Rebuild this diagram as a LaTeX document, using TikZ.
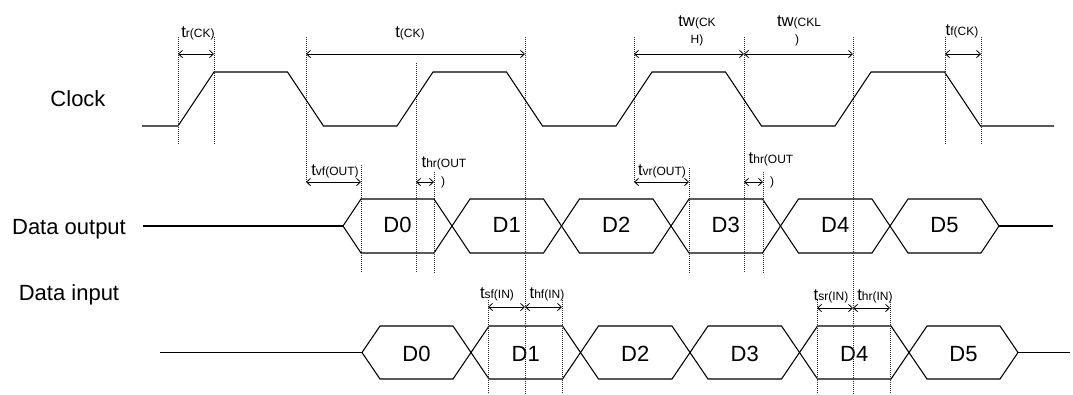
\documentclass[tikz,border=0pt]{standalone}
\usepackage{fontspec}
\setmainfont{Liberation Sans}
\usetikzlibrary{arrows.meta}
\newcommand{\tlab}[2]{{\fontsize{12.5}{14}\selectfont #1}{\fontsize{9}{11}\selectfont #2}}
\begin{document}
\begin{tikzpicture}[x=0.75pt,y=-0.75pt,
  sig/.style={line width=0.8pt, line join=miter},
  guide/.style={line width=0.6pt, dash pattern=on 0.75pt off 0.75pt, black!85},
  dim/.style={line width=0.6pt, {Straight Barb[length=3pt,width=5.5pt]}-{Straight Barb[length=3pt,width=5.5pt]}},
  big/.style={font=\fontsize{16.5}{19}\selectfont, inner sep=0pt, anchor=base},
  small/.style={inner sep=0pt, anchor=base},
]
\fill[white] (0,0) rectangle (1073,394);
\useasboundingbox (0,0) rectangle (1073,394);

% ---------- signal labels
\node[big] (lclk) at (78,106) {Clock};
\node[big] (lout) at (69,234) {Data output};
\node[big] (lin)  at (69,300) {Data input};

% ---------- clock
\draw[sig] (142,126) -- (178,126) -- (214,72) -- (287.5,72) -- (323.5,126)
  -- (397,126) -- (433,72) -- (506.5,72) -- (542.5,126)
  -- (616,126) -- (652,72) -- (725.5,72) -- (761.5,126)
  -- (835,126) -- (871,72) -- (944.5,72) -- (980.5,126) -- (1054,126);

% ---------- data output
\draw[sig] (143,226) -- (343,226);
\draw[sig] (999,226) -- (1053,226);
\foreach \L/\R/\t in {343/452/D0, 452/561.5/D1, 561.5/671/D2, 671/780.5/D3, 780.5/890/D4, 890/999/D5}{
  \draw[sig] (\L,226) -- (\L+18,199) -- (\R-18,199) -- (\R,226) -- (\R-18,253) -- (\L+18,253) -- cycle;
  \node[big] (out\t) at ({(\L+\R)/2},232) {\t};
}

% ---------- data input
\draw[sig] (160,352.5) -- (362,352.5);
\draw[sig] (1018,352.5) -- (1070,352.5);
\foreach \L/\R/\t in {362/471/D0, 471/580.5/D1, 580.5/690/D2, 690/799.5/D3, 799.5/909/D4, 909/1018/D5}{
  \draw[sig] (\L,352.5) -- (\L+18,326) -- (\R-18,326) -- (\R,352.5) -- (\R-18,379) -- (\L+18,379) -- cycle;
  \node[big] (in\t) at ({(\L+\R)/2},361) {\t};
}

% ---------- guide lines
\draw[guide] (178,37) -- (178,144);
\draw[guide] (214,37) -- (214,144);
\draw[guide] (306,37) -- (306,183);
\draw[guide] (416,63) -- (416,273);
\draw[guide] (525,37) -- (525,394);
\draw[guide] (634,37) -- (634,183);
\draw[guide] (744,37) -- (744,273);
\draw[guide] (853,37) -- (853,394);
\draw[guide] (945,37) -- (945,144);
\draw[guide] (981,37) -- (981,144);
\draw[guide] (361,165) -- (361,273);
\draw[guide] (434,172) -- (434,273);
\draw[guide] (689,168) -- (689,273);
\draw[guide] (763,172) -- (763,273);
\draw[guide] (488,300) -- (488,394);
\draw[guide] (562,300) -- (562,394);
\draw[guide] (817,300) -- (817,394);
\draw[guide] (890,300) -- (890,394);

% ---------- dimension arrows
\coordinate (a1) at (178,54); \coordinate (a2) at (214,54);
\coordinate (b1) at (306,54); \coordinate (b2) at (525,54);
\coordinate (c1) at (634,54); \coordinate (c2) at (744,54); \coordinate (c3) at (853,54);
\coordinate (d1) at (945,54); \coordinate (d2) at (981,54);
\coordinate (e1) at (306,182); \coordinate (e2) at (361,182);
\coordinate (f1) at (416,182); \coordinate (f2) at (434,182);
\coordinate (g1) at (634,182); \coordinate (g2) at (689,182);
\coordinate (h1) at (744,182); \coordinate (h2) at (763,182);
\coordinate (i1) at (488,307); \coordinate (i2) at (525,307); \coordinate (i3) at (562,307);
\coordinate (j1) at (817,308); \coordinate (j2) at (853,308); \coordinate (j3) at (890,308);
\draw[dim] (a1) -- (a2);
\draw[dim] (b1) -- (b2);
\draw[dim] (c1) -- (c2);
\draw[dim] (c2) -- (c3);
\draw[dim] (d1) -- (d2);
\draw[dim] (e1) -- (e2);
\draw[dim] (f1) -- (f2);
\draw[dim] (g1) -- (g2);
\draw[dim] (h1) -- (h2);
\draw[dim] (i1) -- (i2);
\draw[dim] (i2) -- (i3);
\draw[dim] (j1) -- (j2);
\draw[dim] (j2) -- (j3);

% ---------- timing labels
\node[small] (ttr) at (198,37) {\tlab{t}{r(CK)}};
\node[small] (ttck) at (410,37) {\tlab{t}{(CK)}};
\node[small] (ttwh) at (697,26) {\tlab{tw}{(CK}};
\node[small] (ttwh2) at (697,43) {\tlab{}{H)}};
\node[small] (ttwl) at (799,26) {\tlab{tw}{(CKL}};
\node[small] (ttwl2) at (797,43) {\tlab{}{)}};
\node[small] (ttf) at (962,35) {\tlab{t}{f(CK)}};
\node[small] (ttvf) at (335,175) {\tlab{t}{vf(OUT)}};
\node[small] (tthr1) at (444,167) {\tlab{t}{hr(OUT}};
\node[small] (tthr1b) at (443,185) {\tlab{}{)}};
\node[small] (ttvr) at (662,175) {\tlab{t}{vr(OUT)}};
\node[small] (tthr2) at (771,163) {\tlab{t}{hr(OUT}};
\node[small] (tthr2b) at (772,185) {\tlab{}{)}};
\node[small] (ttsf) at (497,298) {\tlab{t}{sf(IN)}};
\node[small] (tthf) at (547,298) {\tlab{t}{hf(IN)}};
\node[small] (ttsr) at (831,300) {\tlab{t}{sr(IN)}};
\node[small] (tthri) at (875,300) {\tlab{t}{hr(IN)}};
\end{tikzpicture}
\end{document}
